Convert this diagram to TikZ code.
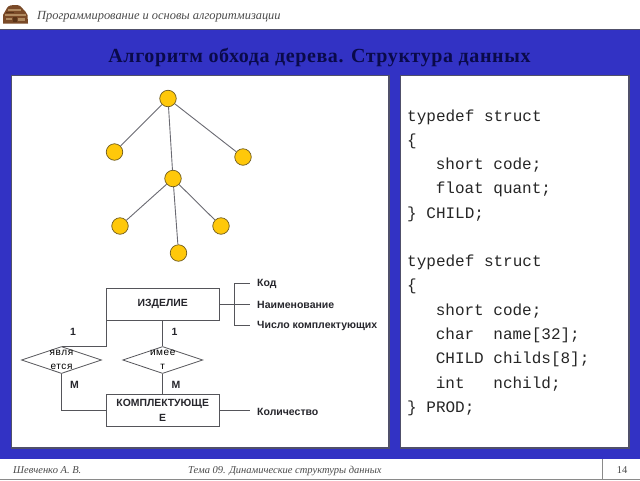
\documentclass[tikz,border=0pt]{standalone}
\usepackage{fontspec}
\setmainfont{Liberation Serif}
\newfontfamily\labelfont{Liberation Sans}
\newfontfamily\relationfont[LetterSpace=6]{Liberation Sans}
\newfontfamily\codefont{Liberation Mono}
\newfontfamily\titlefont[LetterSpace=3]{Liberation Serif}
\usetikzlibrary{shapes.geometric}
\definecolor{bandblue}{HTML}{3232C4}
\definecolor{titlenavy}{HTML}{0A0A4A}
\definecolor{nodegold}{HTML}{FFC80A}
\definecolor{nodeedge}{HTML}{6E5A1E}
\definecolor{linkgrey}{HTML}{6A6A72}
\definecolor{erline}{HTML}{55555A}
\definecolor{ertext}{HTML}{26262C}
\definecolor{shadowgrey}{HTML}{50506A}
\definecolor{footgrey}{HTML}{8A8A8A}
\definecolor{footink}{HTML}{4A4A4A}
\definecolor{chestbrown}{HTML}{7A4A28}
\definecolor{chestdark}{HTML}{5A3418}
\definecolor{chestlight}{HTML}{B08A60}
\tikzset{
  panel/.style={fill=white,draw=shadowgrey,line width=0.8pt},
  treenode/.style={circle,fill=nodegold,draw=nodeedge,line width=0.7pt,minimum size=16.5pt,inner sep=0pt},
  treelink/.style={draw=linkgrey,line width=0.9pt},
  erbox/.style={draw=erline,line width=0.9pt,fill=white,minimum width=112.5pt,minimum height=32pt,inner sep=0pt,align=center,font=\labelfont\fontsize{10.4}{14.5}\selectfont\bfseries,text=ertext},
  erdiamond/.style={diamond,aspect=3,draw=erline,line width=0.8pt,fill=white,minimum width=80pt,minimum height=27pt,inner sep=0pt},
  erlink/.style={draw=erline,line width=0.9pt},
  erlabel/.style={font=\labelfont\fontsize{10.5}{12}\selectfont\bfseries,text=ertext,inner sep=0pt},
  attr/.style={erlabel,anchor=west},
  relation/.style={inner sep=0pt,align=center,text=black,font=\relationfont\fontsize{10}{14}\selectfont},
  codeline/.style={font=\codefont\fontsize{16}{18}\selectfont,text=black!85,anchor=base west,inner sep=0pt},
  footer/.style={font=\itshape\fontsize{10.5}{12}\selectfont,text=footink,anchor=base west,inner sep=0pt}
}
\begin{document}
\begin{tikzpicture}[x=1pt,y=-1pt]
\useasboundingbox (0,0) rectangle (640,480);
\fill[white] (0,0) rectangle (640,480);

% page frame: blue band and the two white panels
\fill[bandblue] (0,29.5) rectangle (640,459);
\draw[shadowgrey,line width=0.8pt] (0,29.5) -- (640,29.5);
\draw[panel] (11,75) rectangle (389,448);
\draw[panel] (400,75) rectangle (629,448);
\draw[shadowgrey,line width=1.2pt] (11,448) -- (389,448) -- (389,75);
\draw[shadowgrey,line width=1.2pt] (400,448) -- (629,448) -- (629,75);

% header emblem
\fill[chestbrown] (3,23.5) -- (3,15) .. controls (4,12) and (6,11) .. (7,8) .. controls (9,5) and (12,5) .. (15,5) .. controls (19,5) and (22,6) .. (23,9) .. controls (24,11) and (27,12) .. (27.5,15) -- (28,23.5) -- cycle;
\fill[chestlight] (8,9) rectangle (21,10.5);
\fill[chestlight] (5,14) rectangle (26,15.5);
\fill[chestdark] (6,11.5) rectangle (14,13);
\fill[chestlight] (6,18) rectangle (12,20);
\fill[chestdark] (13,17) rectangle (17,22);
\fill[chestlight] (18,18) rectangle (25,20.5);

\node[anchor=base west,inner sep=0pt,font=\itshape\fontsize{12.4}{14}\selectfont,text=footink] (course) at (37,19) {Программирование и основы алгоритмизации};
\node[anchor=base,inner sep=0pt,font=\titlefont\bfseries\fontsize{20}{22}\selectfont,text=titlenavy] (title) at (319.5,62) {Алгоритм обхода дерева. Структура данных};

% tree
\node[treenode] (root) at (168,98.5) {};
\node[treenode] (left) at (114.5,152) {};
\node[treenode] (right) at (243,157) {};
\node[treenode] (mid) at (173,178.5) {};
\node[treenode] (midl) at (120,226) {};
\node[treenode] (midr) at (221,226) {};
\node[treenode] (midb) at (178.5,253) {};
\draw[treelink] (root) -- (left);
\draw[treelink] (root) -- (right);
\draw[treelink] (root) -- (mid);
\draw[treelink] (mid) -- (midl);
\draw[treelink] (mid) -- (midr);
\draw[treelink] (mid) -- (midb);

% entity-relationship diagram
\node[erbox] (prod) at (162.7,304) {\raisebox{-1.2pt}{ИЗДЕЛИЕ}};
\node[erbox] (part) at (162.7,410.5) {\raisebox{-0.8pt}{КОМПЛЕКТУЮЩЕ}\\\raisebox{-0.8pt}{Е}};
\node[erdiamond] (isa) at (61.5,360) {};
\node[erdiamond] (has) at (162.7,360) {};
\node[relation] (isatext) at (61.5,360) {явля\\ется};
\node[relation] (hastext) at (162.7,360) {имее\\т};

\coordinate (isacorner) at (prod.west |- isa.north);
\draw[erlink] (prod.south west) -- (isacorner) -- (isa.north);
\draw[erlink] (isa.south) |- (part.west);
\draw[erlink] (prod) -- (has);
\draw[erlink] (has) -- (part);

\node[erlabel] (one1) at (73,331.5) {1};
\node[erlabel] (one2) at (174.5,331.5) {1};
\node[erlabel] (many1) at (74.5,385) {М};
\node[erlabel] (many2) at (176,385) {М};

\node[attr] (acode) at (257,283.5) {Код};
\node[attr] (aname) at (257,305) {Наименование};
\node[attr] (acount) at (257,326) {Число комплектующих};
\node[attr] (aqty) at (257,411.5) {Количество};
\coordinate (fork) at (234.5,304);
\coordinate (forkend) at (250,304);
\coordinate (forktop) at (250,283);
\coordinate (forkbottom) at (250,325);
\coordinate (qtyend) at (250,410.5);
\draw[erlink] (prod.east) -- (fork);
\draw[erlink,line width=0.7pt] (fork) -- (forkend);
\draw[erlink] (fork) |- (forktop);
\draw[erlink] (fork) |- (forkbottom);
\draw[erlink] (part.east) -- (qtyend);

% structure declarations
\node[codeline] (c1) at (407,121) {typedef struct};
\node[codeline] (c2) at (407,145.5) {\{};
\node[codeline] (c3) at (435.6,169.5) {short code;};
\node[codeline] (c4) at (435.6,193.5) {float quant;};
\node[codeline] (c5) at (407,218) {\}\ CHILD;};
\node[codeline] (c6) at (407,266) {typedef struct};
\node[codeline] (c7) at (407,290.5) {\{};
\node[codeline] (c8) at (435.6,315) {short code;};
\node[codeline] (c9) at (435.6,339) {char\ \ name[32];};
\node[codeline] (c10) at (435.6,363) {CHILD childs[8];};
\node[codeline] (c11) at (435.6,388) {int\ \ \ nchild;};
\node[codeline] (c12) at (407,412) {\}\ PROD;};

% footer
\node[footer] (author) at (13,473) {Шевченко А. В.};
\node[footer] (topic) at (188,473) {Тема 09. Динамические структуры данных};
\node[anchor=base,inner sep=0pt,font=\fontsize{10.5}{12}\selectfont,text=footink] (page) at (622,473) {14};
\draw[footgrey,line width=0.9pt] (0,479.3) -- (640,479.3);
\draw[footgrey,line width=0.9pt] (602,459) -- (602,479.3);
\end{tikzpicture}
\end{document}
